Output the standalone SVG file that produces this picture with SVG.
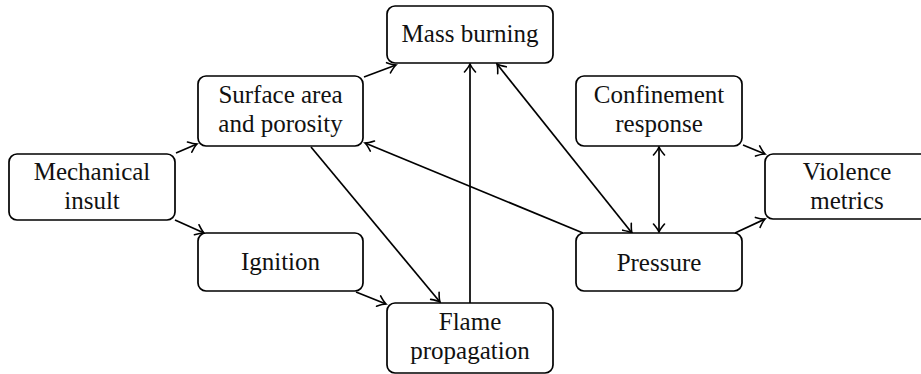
<svg xmlns="http://www.w3.org/2000/svg" width="921" height="374" viewBox="0 0 921 374">
<style>
.node rect{fill:#fff;stroke:#000;stroke-width:1.7}
.node text{font-size:25px;fill:#111;text-anchor:middle}
.edges line{stroke:#000;stroke-width:1.7;fill:none}
</style>
<defs>
<marker id="ah" viewBox="-10 -7 12 14" refX="0" refY="0" markerWidth="12" markerHeight="14" markerUnits="userSpaceOnUse" orient="auto-start-reverse">
<path d="M-8,-5.5 Q-3,-1.2 0,0 Q-3,1.2 -8,5.5" fill="none" stroke="#000" stroke-width="1.6" stroke-linecap="round"/>
</marker>
</defs>
<g class="edges">
<line x1="176" y1="153" x2="197" y2="144" marker-end="url(#ah)"/>
<line x1="175" y1="220" x2="204" y2="233" marker-end="url(#ah)"/>
<line x1="364" y1="77" x2="396" y2="65" marker-end="url(#ah)"/>
<line x1="311" y1="147" x2="440" y2="302" marker-end="url(#ah)"/>
<line x1="356" y1="292" x2="386" y2="304" marker-end="url(#ah)"/>
<line x1="470" y1="303" x2="470" y2="64" marker-end="url(#ah)"/>
<line x1="497" y1="64" x2="632" y2="233" marker-start="url(#ah)" marker-end="url(#ah)"/>
<line x1="583" y1="233" x2="365" y2="143" marker-end="url(#ah)"/>
<line x1="659" y1="147" x2="659" y2="232" marker-start="url(#ah)" marker-end="url(#ah)"/>
<line x1="743" y1="145" x2="765" y2="154" marker-end="url(#ah)"/>
<line x1="735" y1="233" x2="765" y2="219" marker-end="url(#ah)"/>
</g>
<g font-family="Liberation Serif, Times New Roman, DejaVu Serif, serif">
<g id="mechanical" class="node"><rect x="9" y="154" width="166" height="66" rx="8"/><text x="92" y="180">Mechanical</text><text x="92" y="209">insult</text></g>
<g id="surface" class="node"><rect x="198" y="76" width="165" height="70" rx="8"/><text x="280.5" y="103">Surface area</text><text x="280.5" y="132">and porosity</text></g>
<g id="ignition" class="node"><rect x="198" y="233" width="165" height="58" rx="8"/><text x="280.5" y="270">Ignition</text></g>
<g id="mass" class="node"><rect x="387" y="6" width="166" height="57" rx="8"/><text x="470" y="42">Mass burning</text></g>
<g id="flame" class="node"><rect x="387" y="303" width="166" height="70" rx="8"/><text x="470" y="330">Flame</text><text x="470" y="359">propagation</text></g>
<g id="confinement" class="node"><rect x="576" y="76" width="166" height="70" rx="8"/><text x="659" y="103">Confinement</text><text x="659" y="132">response</text></g>
<g id="pressure" class="node"><rect x="576" y="233" width="166" height="58" rx="8"/><text x="659" y="271">Pressure</text></g>
<g id="violence" class="node"><rect x="765" y="154" width="166" height="65" rx="8"/><text x="847" y="180">Violence</text><text x="847" y="209">metrics</text></g>
</g>
</svg>
